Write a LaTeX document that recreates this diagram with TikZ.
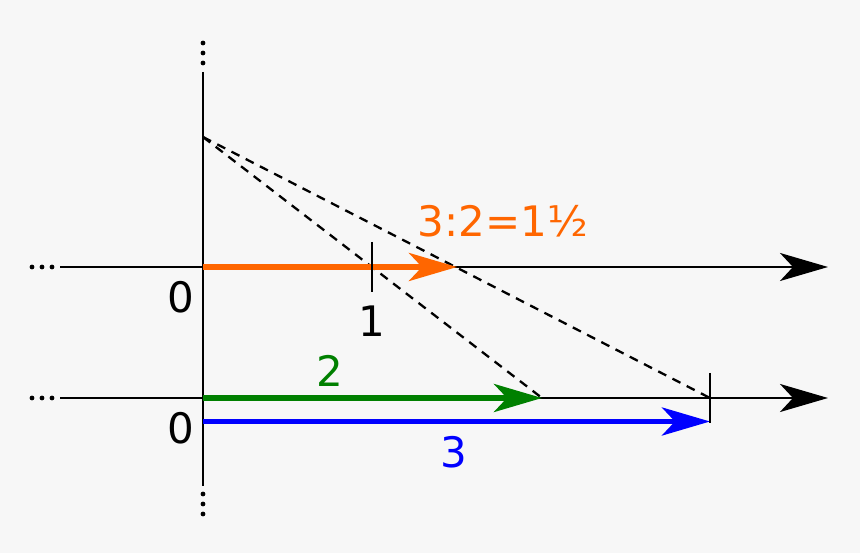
\documentclass[tikz,border=0pt]{standalone}
\usepackage{fontspec}
\setmainfont{DejaVu Sans}
\usetikzlibrary{arrows.meta}
\definecolor{bg}{HTML}{F7F7F7}
\definecolor{myorange}{HTML}{FF6600}
\definecolor{mygreen}{HTML}{008000}
\definecolor{myblue}{HTML}{0000FF}
\begin{document}
\begin{tikzpicture}[x=1pt,y=-1pt,
  axis/.style={line width=2.6pt,black},
  bigarrow/.style={-{Stealth[length=48pt,width=28pt,inset=13pt]}},
  vecline/.style={line width=5.5pt,bigarrow},
  guide/.style={line width=2.3pt,dash pattern=on 9pt off 7pt},
  tickmark/.style={line width=2.4pt},
  dot/.style={circle,fill=black,inner sep=0pt,minimum size=4.8pt},
  lbl/.style={font=\fontsize{42}{50}\selectfont,anchor=base,inner sep=0pt}]
\fill[bg] (0,0) rectangle (860,553);
\useasboundingbox (0,0) rectangle (860,553);
% coordinates
\coordinate (vtop) at (203,72);
\coordinate (vbot) at (203,486);
\coordinate (apex) at (203,137);
\coordinate (uL) at (60,267);
\coordinate (uO) at (203,267);
\coordinate (uR) at (828,267);
\coordinate (lL) at (60,398);
\coordinate (lO) at (203,398);
\coordinate (lR) at (828,398);
\coordinate (bO) at (203,421.5);
\coordinate (oTip) at (457,267);
\coordinate (gTip) at (542,398);
\coordinate (bTip) at (710,421.5);
\coordinate (t1a) at (372,242);
\coordinate (t1b) at (372,292);
\coordinate (t3a) at (710,373);
\coordinate (t3b) at (710,423);
% dots
\node[dot] (vd1) at (203,43) {};
\node[dot] (vd2) at (203,53) {};
\node[dot] (vd3) at (203,63) {};
\node[dot] (vd4) at (203,494) {};
\node[dot] (vd5) at (203,504) {};
\node[dot] (vd6) at (203,514) {};
\node[dot] (ud1) at (32,267) {};
\node[dot] (ud2) at (42,267) {};
\node[dot] (ud3) at (52,267) {};
\node[dot] (ld1) at (32,398) {};
\node[dot] (ld2) at (42,398) {};
\node[dot] (ld3) at (52,398) {};
% axes
\draw[axis] (vtop) -- (vbot);
\draw[axis,bigarrow] (uL) -- (uR);
\draw[axis,bigarrow] (lL) -- (lR);
% guides
\draw[guide] (apex) -- (gTip);
\draw[guide] (apex) -- (t3a |- lO);
% vectors
\draw[vecline,myorange] (uO) -- (oTip);
\draw[vecline,mygreen] (lO) -- (gTip);
\draw[vecline,myblue] (bO) -- (bTip);
% ticks
\draw[tickmark] (t1a) -- (t1b);
\draw[tickmark] (t3a) -- (t3b);
% labels
\node[lbl] (z1) at (181,313) {0};
\node[lbl] (z2) at (181,443) {0};
\node[lbl] (one) at (372,337) {1};
\node[lbl,text=mygreen] (two) at (330,387) {2};
\node[lbl,text=myblue] (three) at (454,467) {3};
\node[lbl,text=myorange] (ratio) at (503,237) {3:2=1½};
\end{tikzpicture}
\end{document}
